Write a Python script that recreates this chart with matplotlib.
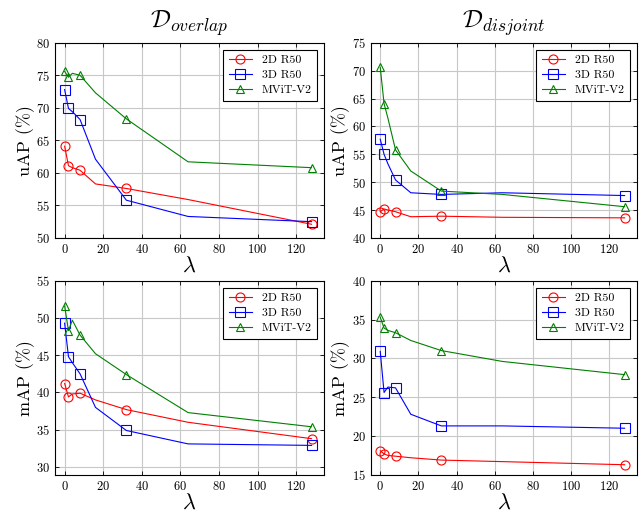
import matplotlib
matplotlib.use("Agg")
import matplotlib.pyplot as plt

plt.rcParams["font.family"] = "serif"
plt.rcParams["font.serif"] = ["cmr10", "DejaVu Serif"]
plt.rcParams["mathtext.fontset"] = "cm"
plt.rcParams["axes.formatter.use_mathtext"] = True

# lambda values; markers only on 0, 2, 8, 32, 128
lam = [0, 2, 4, 8, 16, 32, 64, 128]
mark_idx = [0, 1, 3, 5, 7]

names = ["2D R50", "3D R50", "MViT-V2"]

# overlap split
uap_overlap_2d = [64.1, 61.1, 60.8, 60.4, 58.3, 57.6, 55.9, 52.1]
uap_overlap_3d = [72.8, 69.9, 69.4, 68.2, 62.1, 55.8, 53.3, 52.5]
uap_overlap_mvit = [75.6, 74.7, 75.3, 75.0, 72.3, 68.3, 61.7, 60.8]
map_overlap_2d = [41.2, 39.4, 39.8, 39.9, 39.0, 37.7, 36.0, 33.8]
map_overlap_3d = [49.3, 44.8, 44.0, 42.5, 38.0, 34.9, 33.1, 32.9]
map_overlap_mvit = [51.6, 48.3, 49.7, 47.7, 45.2, 42.4, 37.3, 35.4]

# disjoint split
uap_disjoint_2d = [44.7, 45.2, 45.0, 44.7, 43.8, 43.9, 43.7, 43.6]
uap_disjoint_3d = [57.7, 55.0, 53.3, 50.4, 48.1, 47.8, 48.1, 47.6]
uap_disjoint_mvit = [70.6, 64.1, 61.5, 55.8, 52.0, 48.4, 47.8, 45.6]
map_disjoint_2d = [18.1, 17.7, 17.5, 17.4, 17.2, 16.9, 16.7, 16.3]
map_disjoint_3d = [30.9, 25.6, 26.3, 26.2, 22.8, 21.3, 21.3, 21.0]
map_disjoint_mvit = [35.3, 33.9, 33.6, 33.3, 32.3, 31.0, 29.6, 27.9]

colors = ["red", "blue", "green"]
markers = ["o", "s", "^"]
msizes = [6.5, 6.5, 5.5]

panels = [
    ([0.0855, 0.538, 0.4185, 0.379], [uap_overlap_2d, uap_overlap_3d, uap_overlap_mvit],
     "uAP (%)", (50, 80), [50, 55, 60, 65, 70, 75, 80], r"$\mathcal{D}_{overlap}$"),
    ([0.5765, 0.538, 0.4142, 0.379], [uap_disjoint_2d, uap_disjoint_3d, uap_disjoint_mvit],
     "uAP (%)", (40, 75), [40, 45, 50, 55, 60, 65, 70, 75], r"$\mathcal{D}_{disjoint}$"),
    ([0.0855, 0.078, 0.4185, 0.377], [map_overlap_2d, map_overlap_3d, map_overlap_mvit],
     "mAP (%)", (28.95, 55), [30, 35, 40, 45, 50, 55], None),
    ([0.5765, 0.078, 0.4142, 0.377], [map_disjoint_2d, map_disjoint_3d, map_disjoint_mvit],
     "mAP (%)", (15, 40), [15, 20, 25, 30, 35, 40], None),
]

fig = plt.figure(figsize=(6.43, 5.15), dpi=100)

for rect, series, ylab, ylim, yticks, title in panels:
    ax = fig.add_axes(rect)
    for vals, c, m, ms, name in zip(series, colors, markers, msizes, names):
        ax.plot(lam, vals, color=c, lw=0.8, marker=m, markevery=mark_idx,
                markersize=ms, markerfacecolor="none", markeredgewidth=0.8,
                label=name)
    ax.set_xlim(-5, 134.5)
    ax.set_ylim(*ylim)
    ax.set_xticks([0, 20, 40, 60, 80, 100, 120])
    ax.set_yticks(yticks)
    ax.grid(True, color="#c8c8c8", lw=0.8)
    ax.set_axisbelow(True)
    ax.tick_params(direction="in", top=True, right=True, labelsize=9,
                   length=3, width=0.6)
    for s in ax.spines.values():
        s.set_linewidth(0.8)
    ax.set_ylabel(ylab, fontsize=13, labelpad=1)
    ax.set_xlabel(r"$\lambda$", fontsize=16, labelpad=0)
    if title:
        ax.set_title(title, fontsize=18, pad=11)
    leg = ax.legend(loc="upper right", fontsize=8.5, fancybox=False,
                    edgecolor="black", framealpha=1, borderaxespad=0.6,
                    handlelength=2.0, labelspacing=0.4, borderpad=0.45)
    leg.get_frame().set_linewidth(0.8)

fig.savefig("out.png", dpi=100)
